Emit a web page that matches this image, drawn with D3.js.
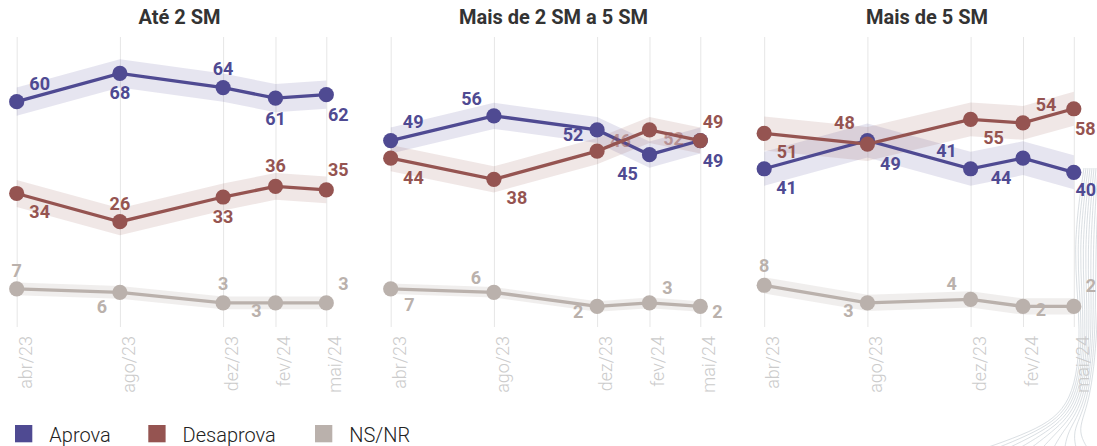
<!DOCTYPE html>
<html><head><meta charset="utf-8">
<script src="https://cdn.jsdelivr.net/npm/d3@7"></script>
<style>
body{margin:0;background:#fff;}
svg{display:block;font-family:Roboto,"Noto Sans",sans-serif;}
</style></head>
<body><svg id="c" width="1097" height="446"></svg>
<script>
// ---- data ----
const dates = ["2023-04-01","2023-08-11","2023-12-21","2024-02-26","2024-05-01"];
const tickLabels = ["abr/23","ago/23","dez/23","fev/24","mai/24"];
const panelTitles = ["Até 2 SM","Mais de 2 SM a 5 SM","Mais de 5 SM"];
const seriesNames = ["Aprova","Desaprova","NS/NR"];

const aprova1 = [60,68,64,61,62];
const desaprova1 = [34,26,33,36,35];
const nsnr1 = [7,6,3,3,3];
const aprova2 = [49,56,52,45,49];
const desaprova2 = [44,38,46,52,49];
const nsnr2 = [7,6,2,3,2];
const aprova3 = [41,49,41,44,40];
const desaprova3 = [51,48,55,54,58];
const nsnr3 = [8,3,4,2,2];
// margin of error (± points) per panel: Aprova, Desaprova, NS/NR
const margin1 = [4,3.8,1.8];
const margin2 = [3.7,3.7,1.5];
const margin3 = [4.8,4.8,2.3];

// ---- layout / style ----
const colors = ["#4f4a92","#955451","#bab1ac"];
const bandOpacity = [0.14,0.14,0.22];
const panelOffsets = [0,374,747.5];
// label offsets [dx, dy] relative to point (text baseline)
const labelOffsets = [
  [[[23,-12],[0,26],[0,-13],[0,26.5],[12,26]],
   [[23,25],[0,-12],[0,26],[0,-14],[12,-13.5]],
   [[0,-12],[-18,21],[0,-12.5],[-19,14],[17,-12.5]]],
  [[[22.5,-12.4],[-22.4,-11.3],[-24,11.4],[-22,25],[12.7,26]],
   [[22.7,26.3],[23,25],[23.5,-4],[24,15.3],[12.7,-12.7]],
   [[18.6,22.7],[-18,-8.7],[-19,11.6],[18,-9.3],[17,11.3]]],
  [[[22.3,25.3],[23,29],[-24,-12],[-22,25.6],[12,24]],
   [[23,24.6],[-23,-15],[23,24.7],[23,-11.6],[11.5,26]],
   [[0,-13.3],[-19,14],[-19,-9],[18,10],[17,-14]]]
];
const fadedLabels = [[],[[],[2,3],[]],[]];

const panelData = [
  {values:[aprova1,desaprova1,nsnr1], margins:margin1},
  {values:[aprova2,desaprova2,nsnr2], margins:margin2},
  {values:[aprova3,desaprova3,nsnr3], margins:margin3}
];

const parse = d3.timeParse("%Y-%m-%d");
const dateObjs = dates.map(parse);
const svg = d3.select("#c");

// decorative line bundle (bottom right)
const deco = svg.append("g").attr("fill","none").attr("stroke","#b3bec6").attr("stroke-width",0.6).attr("opacity",0.8);
const decoLine = d3.line().curve(d3.curveBasis);
d3.range(10).forEach(i=>{
  const t=i/9;
  deco.append("path").attr("d",decoLine([[1084+18*t,168],[1072+26*t,250],[1082+16*t,330],[1074+16*t,405],[1035+40*t,432],[955+140*t,458]]));
});

const x = d3.scaleTime().domain(d3.extent(dateObjs)).range([16.7,326.3]);
const y = d3.scaleLinear().domain([0,80]).range([313.5,31.1]);
const gridTop = 37, gridBottom = 327;

panelData.forEach((p,pi)=>{
  const g = svg.append("g").attr("transform",`translate(${panelOffsets[pi]},0)`);
  g.append("text").attr("x",179.5).attr("y",23.5).attr("text-anchor","middle")
    .attr("font-size",20).attr("font-weight",700).attr("fill","#333").text(panelTitles[pi]);

  const axis = d3.axisBottom(x).tickValues(dateObjs).tickFormat((d,i)=>tickLabels[i]).tickSize(-(gridBottom-gridTop)).tickSizeOuter(0);
  const ax = g.append("g").attr("transform",`translate(0,${gridBottom})`).call(axis);
  ax.select(".domain").remove();
  ax.selectAll(".tick line").attr("stroke","#e6e6e6").attr("stroke-width",1);
  ax.selectAll(".tick text").attr("transform","rotate(-90)").attr("x",-9).attr("y",14.5).attr("dy",0)
    .attr("text-anchor","end").attr("font-size",18).attr("font-weight",300).attr("fill","#cbcbcb")
    .attr("font-family","Roboto");

  // bands
  p.values.forEach((vals,si)=>{
    const m = p.margins[si];
    const area = d3.area().x((d,i)=>x(dateObjs[i])).y0(d=>y(d-m)).y1(d=>y(d+m));
    g.append("path").attr("d",area(vals)).attr("fill",colors[si]).attr("opacity",bandOpacity[si]);
  });
  // lines and points: NS, Aprova, Desaprova (desaprova on top)
  [2,0,1].forEach(si=>{
    const vals = p.values[si];
    const line = d3.line().x((d,i)=>x(dateObjs[i])).y(d=>y(d));
    g.append("path").attr("d",line(vals)).attr("fill","none").attr("stroke",colors[si]).attr("stroke-width",3.3);
    g.selectAll(null).data(vals).enter().append("circle")
      .attr("cx",(d,i)=>x(dateObjs[i])).attr("cy",d=>y(d)).attr("r",7.6).attr("fill",colors[si]);
  });
  // labels
  [2,0,1].forEach(si=>{
    const vals = p.values[si];
    const faded = (fadedLabels[pi] && fadedLabels[pi][si]) || [];
    g.selectAll(null).data(vals).enter().append("text")
      .attr("x",(d,i)=>x(dateObjs[i])+labelOffsets[pi][si][i][0])
      .attr("y",(d,i)=>y(d)+labelOffsets[pi][si][i][1])
      .attr("text-anchor","middle").attr("font-size",18).attr("font-weight",700)
      .attr("fill",colors[si]).attr("opacity",(d,i)=>faded.includes(i)?0.5:1)
      .text(d=>d);
  });
});

// legend
const legX = [15,148.3,315];
seriesNames.forEach((n,i)=>{
  svg.append("rect").attr("x",legX[i]).attr("y",425).attr("width",17.3).attr("height",17.3).attr("fill",colors[i]);
  svg.append("text").attr("x",legX[i]+34.3).attr("y",441.5).attr("font-size",20).attr("font-weight",300)
    .attr("fill","#222").text(n);
});
</script>
</body></html>
